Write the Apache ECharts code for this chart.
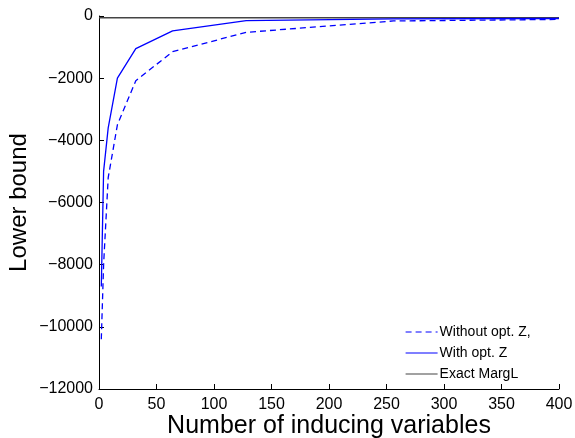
<!DOCTYPE html>
<html>
<head>
<meta charset="utf-8">
<script src="https://cdn.jsdelivr.net/npm/echarts@6/dist/echarts.min.js"></script>
<style>html,body{margin:0;padding:0;background:#fff}#c{width:575px;height:438px}</style>
</head>
<body>
<div id="c"></div>
<script>
const xValues = [2, 4, 8, 16, 32, 64, 128, 256, 400];
const withoutOptZ = [-10400, -8000, -5200, -3500, -2080, -1150, -525, -160, -110];
const withOptZ = [-8700, -5000, -3600, -2000, -1050, -480, -150, -90, -80];
const exactMargL = [-60, -60, -60, -60, -60, -60, -60, -60, -60];
const xTicks = [0, 50, 100, 150, 200, 250, 300, 350, 400];
const yTicks = [0, -2000, -4000, -6000, -8000, -10000, -12000];
const seriesNames = ['Without opt. Z,', 'With opt. Z', 'Exact MargL'];

const pair = (ys) => xValues.map((x, i) => [x, ys[i]]);
const font = 'Liberation Sans, Arial, Helvetica, sans-serif';
const chart = echarts.init(document.getElementById('c'), null, {renderer: 'canvas'});
chart.setOption({
  animation: false,
  backgroundColor: '#fff',
  grid: {left: 99, right: 16, top: 16, bottom: 49, containLabel: false, outerBoundsMode: 'none'},
  xAxis: {
    type: 'value', min: xTicks[0], max: xTicks[xTicks.length - 1], interval: 50,
    name: 'Number of inducing variables', nameLocation: 'middle', nameGap: 25,
    nameMoveOverlap: false,
    nameTextStyle: {fontFamily: font, fontSize: 25, color: '#000'},
    axisLine: {show: true, onZero: false, lineStyle: {color: '#000', width: 1}},
    axisTick: {show: true, inside: true, length: 5, lineStyle: {color: '#000'}},
    axisLabel: {fontFamily: font, fontSize: 16, color: '#000', margin: 8},
    splitLine: {show: false}
  },
  yAxis: {
    type: 'value', min: yTicks[yTicks.length - 1], max: yTicks[0], interval: 2000,
    name: 'Lower bound', nameLocation: 'middle', nameGap: 68,
    nameMoveOverlap: false,
    nameTextStyle: {fontFamily: font, fontSize: 24, color: '#000'},
    axisLine: {show: true, onZero: false, lineStyle: {color: '#000', width: 1}},
    axisTick: {show: true, inside: true, length: 5, lineStyle: {color: '#000'}},
    axisLabel: {fontFamily: font, fontSize: 16, color: '#000', margin: 6,
      formatter: v => String(v).replace('-', '\u2212')},
    splitLine: {show: false}
  },
  legend: {
    orient: 'vertical', left: 405, top: 325, padding: 0, itemGap: 7,
    itemWidth: 32, itemHeight: 14,
    itemStyle: {opacity: 0},
    lineStyle: {width: 1.2},
    textStyle: {fontFamily: font, fontSize: 14, color: '#000', padding: [0, 0, 0, -3]},
    data: seriesNames
  },
  series: [
    {name: seriesNames[0], type: 'line', data: pair(withoutOptZ), symbol: 'none',
      lineStyle: {color: '#0000ff', width: 1.3, type: [6, 4]}, itemStyle: {color: '#0000ff'}},
    {name: seriesNames[1], type: 'line', data: pair(withOptZ), symbol: 'none',
      lineStyle: {color: '#0000ff', width: 1.3}, itemStyle: {color: '#0000ff'}},
    {name: seriesNames[2], type: 'line', data: [[0, exactMargL[0]]].concat(pair(exactMargL)), symbol: 'none', z: 1,
      lineStyle: {color: '#444', width: 1.5}, itemStyle: {color: '#444'}}
  ]
});
</script>
</body>
</html>
